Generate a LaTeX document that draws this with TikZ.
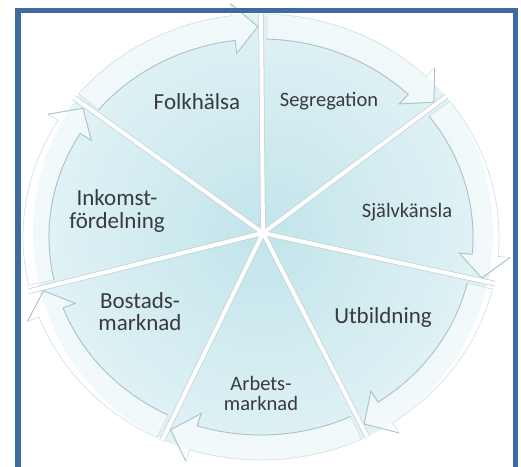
\documentclass[tikz,border=0pt]{standalone}
\usepackage{fontspec}
\setmainfont{Carlito}
\definecolor{frameblue}{RGB}{64,105,160}
\definecolor{wedgein}{RGB}{193,228,234}
\definecolor{wedgeout}{RGB}{226,243,246}
\definecolor{bandline}{RGB}{170,192,197}
\definecolor{bandfaint}{RGB}{212,226,229}
\definecolor{sepgray}{RGB}{196,210,213}
\definecolor{txt}{RGB}{58,58,58}
\begin{document}
\begin{tikzpicture}[x=1pt,y=1pt,
 lbl/.style={text=txt, align=center, inner sep=0pt},
 big/.style={font=\fontsize{23}{23}\selectfont},
 small/.style={font=\fontsize{20.5}{20}\selectfont},
 arrowband/.style={fill=white, fill opacity=0.55, draw=bandfaint, draw opacity=1, line width=0.7pt, line join=miter},
 arrowedge/.style={draw=bandline, line width=0.8pt, line join=miter},
 sepback/.style={draw=sepgray, line width=5.5pt},
 sepfront/.style={draw=white, line width=4pt},
 frameline/.style={draw=frameblue, line width=5.5pt}]
\useasboundingbox (-261,-229) rectangle (260,237);
\clip (-261,-229) rectangle (260,237);
\def\rxo{238}\def\ryo{223}
\def\rxi{212}\def\ryi{198}
\def\rxm{225}\def\rym{210.5}
\coordinate (P) at (2,4);
% wedges
\foreach \a/\b in {141.5/90, 90/39, 39/-12, -12/-63.5, -63.5/-114.5, -114.5/-166, 194/141.5}{
  \begin{scope}
   \clip (P) -- ({\rxo*cos(\a)},{\ryo*sin(\a)}) arc[start angle=\a, end angle=\b, x radius=\rxo, y radius=\ryo] -- cycle;
   \shade[inner color=wedgein, outer color=wedgeout] (P) circle (230);
  \end{scope}
}
% arrows
\foreach \a/\b in {141.5/90, 90/39, 39/-12, -12/-63.5, -63.5/-114.5, -114.5/-166, 194/141.5}{
 \pgfmathsetmacro\s{\a-1.5}
 \pgfmathsetmacro\h{\b+7}
 \pgfmathsetmacro\tp{\b+0.8}
 \path[arrowband] ({\rxo*cos(\s)},{\ryo*sin(\s)}) arc[start angle=\s, end angle=\h, x radius=\rxo, y radius=\ryo]
  -- ({(\rxo+12)*cos(\h)},{(\ryo+12)*sin(\h)})
  -- ({\rxm*cos(\tp)},{\rym*sin(\tp)})
  -- ({(\rxi-13)*cos(\h)},{(\ryi-13)*sin(\h)})
  -- ({\rxi*cos(\h)},{\ryi*sin(\h)})
  arc[start angle=\h, end angle=\s, x radius=\rxi, y radius=\ryi] -- cycle;
 \path[arrowedge] ({(\rxo+12)*cos(\h)},{(\ryo+12)*sin(\h)})
  -- ({\rxm*cos(\tp)},{\rym*sin(\tp)})
  -- ({(\rxi-13)*cos(\h)},{(\ryi-13)*sin(\h)})
  -- ({\rxi*cos(\h)},{\ryi*sin(\h)})
  arc[start angle=\h, end angle=\s, x radius=\rxi, y radius=\ryi];
}
% separators
\foreach \t in {90,39,-12,-63.5,-114.5,-166,141.5}{
  \draw[sepback] (P) -- ({(\rxo+1)*cos(\t)},{(\ryo+1)*sin(\t)});
}
\foreach \t in {90,39,-12,-63.5,-114.5,-166,141.5}{
  \draw[sepfront] (P) -- ({(\rxo+1)*cos(\t)},{(\ryo+1)*sin(\t)});
}
% frame
\draw[frameline] (-243,-240) -- (-243,226.5) -- (254.5,226.5) -- (254.5,-240);
% labels
\node[lbl,big] (folk) at (-64,135) {Folkhälsa};
\node[lbl,small] (seg) at (68,136) {Segregation};
\node[lbl,small] (sjalv) at (146,25) {Självkänsla};
\node[lbl,big] (utb) at (122,-80) {Utbildning};
\node[lbl,small] (arb) at (0,-156) {Arbets-\\marknad};
\node[lbl,font=\fontsize{23}{22}\selectfont] (bost) at (-121,-75) {Bostads-\\marknad};
\node[lbl,big] (ink) at (-144,26) {Inkomst-\\fördelning};
\end{tikzpicture}
\end{document}
